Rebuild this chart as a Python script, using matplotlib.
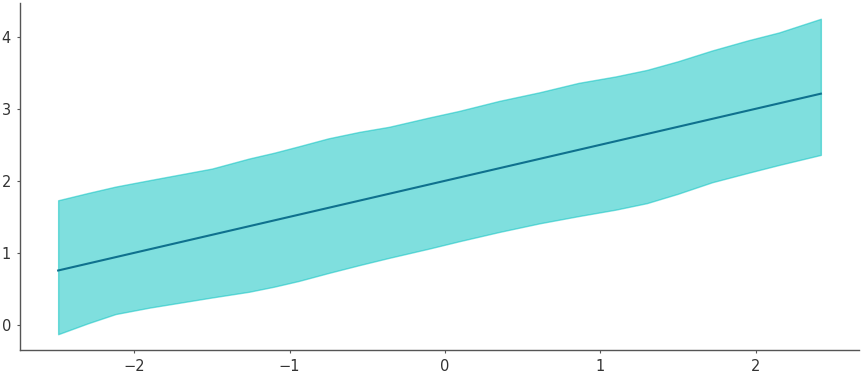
import matplotlib
matplotlib.use("Agg")
import matplotlib.pyplot as plt

# Data
x_band = [-2.49, -2.30, -2.12, -1.90, -1.70, -1.50, -1.26, -1.10, -0.94, -0.75,
          -0.55, -0.36, -0.10, 0.09, 0.35, 0.61, 0.86, 1.10, 1.30, 1.50,
          1.72, 1.95, 2.15, 2.42]
upper = [1.73, 1.83, 1.92, 2.01, 2.09, 2.17, 2.31, 2.39, 2.48, 2.59,
         2.68, 2.75, 2.88, 2.97, 3.11, 3.23, 3.36, 3.45, 3.54, 3.66,
         3.81, 3.95, 4.06, 4.25]
lower = [-0.13, 0.02, 0.15, 0.24, 0.31, 0.38, 0.46, 0.53, 0.61, 0.72,
         0.83, 0.93, 1.06, 1.16, 1.29, 1.41, 1.51, 1.60, 1.69, 1.82,
         1.98, 2.11, 2.22, 2.36]
x_line = [-2.49, 2.42]
y_line = [0.755, 3.21]

fig = plt.figure(figsize=(8.62, 3.75), dpi=100)
ax = fig.add_axes([20 / 862, 1 - 350 / 375, 839 / 862, 347 / 375])

ax.fill_between(x_band, lower, upper, color="#00c0bf", alpha=0.5, linewidth=1)
ax.plot(x_line, y_line, color="#0f718e", lw=1.5)

for s in ["top", "right"]:
    ax.spines[s].set_visible(False)
for s in ["left", "bottom"]:
    ax.spines[s].set_color("#555555")
    ax.spines[s].set_linewidth(1.0)
ax.tick_params(axis="both", length=2.5, width=0.8, color="#555555",
               labelcolor="#333333", labelsize=10.5, pad=4)
ax.set_xticks([-2, -1, 0, 1, 2])
ax.set_yticks([0, 1, 2, 3, 4])

fig.savefig("out.png", dpi=100)
